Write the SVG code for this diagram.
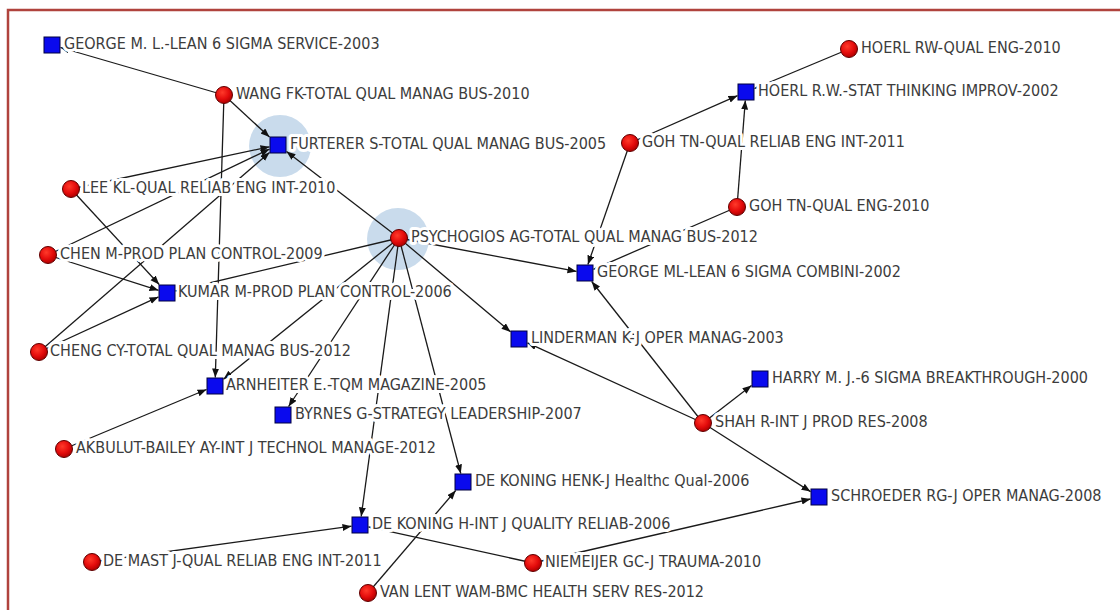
<svg xmlns="http://www.w3.org/2000/svg" width="1120" height="610" viewBox="0 0 1120 610">
  <defs>
    <radialGradient id="redBall" cx="40%" cy="35%" r="65%">
      <stop offset="0" stop-color="#ff3a2a"/>
      <stop offset="0.6" stop-color="#e40c0c"/>
      <stop offset="1" stop-color="#b00000"/>
    </radialGradient>
    <marker id="arrow" markerUnits="userSpaceOnUse" markerWidth="10" markerHeight="8" refX="9" refY="3.5" orient="auto">
      <path d="M0,0 L9,3.5 L0,7 z" fill="#111"/>
    </marker>
    <style>
      .frame { fill: none; stroke: #b0433d; stroke-width: 2.5; }
      .halo { fill: #c9dbec; }
      .edge { stroke: #1a1a1a; stroke-width: 1.3; fill: none; marker-end: url(#arrow); }
      .paper { fill: #0a0aee; stroke: #000040; stroke-width: 1; }
      .author { fill: url(#redBall); stroke: #600000; stroke-width: 1; }
      .lbl { font-family: "DejaVu Sans Condensed", "DejaVu Sans", "Liberation Sans", sans-serif; font-stretch: condensed; font-size: 16px; fill: #3c3c3c; stroke: #ffffff; stroke-width: 6; stroke-linejoin: round; paint-order: stroke; }
    </style>
  </defs>

  <rect width="1120" height="610" fill="#ffffff"/>
  <path class="frame" d="M8,612 L8,10 L1122,10"/>

  <!-- highlight discs behind the two central nodes -->
  <circle class="halo" cx="280" cy="146" r="31"/>
  <circle class="halo" cx="398" cy="239" r="31"/>

  <g id="connectors">
    <line class="edge" x1="224" y1="95" x2="60.5" y2="47.5"/>
    <line class="edge" x1="224" y1="95" x2="269.5" y2="137.1"/>
    <line class="edge" x1="224" y1="95" x2="215.3" y2="377.5"/>
    <line class="edge" x1="71" y1="189" x2="269.5" y2="146.8"/>
    <line class="edge" x1="48" y1="255" x2="269.5" y2="149.1"/>
    <line class="edge" x1="39" y1="352" x2="269.5" y2="152.4"/>
    <line class="edge" x1="399" y1="238" x2="286.5" y2="151.5"/>
    <line class="edge" x1="71" y1="189" x2="159.2" y2="284.5"/>
    <line class="edge" x1="48" y1="255" x2="158.5" y2="290.3"/>
    <line class="edge" x1="39" y1="352" x2="158.5" y2="296.9"/>
    <line class="edge" x1="399" y1="238" x2="175.5" y2="291"/>
    <line class="edge" x1="399" y1="238" x2="223.5" y2="379.2"/>
    <line class="edge" x1="64" y1="449" x2="206.5" y2="389.5"/>
    <line class="edge" x1="399" y1="238" x2="288.6" y2="406.5"/>
    <line class="edge" x1="399" y1="238" x2="361.2" y2="516.5"/>
    <line class="edge" x1="399" y1="238" x2="460.8" y2="473.5"/>
    <line class="edge" x1="399" y1="238" x2="576.5" y2="271.4"/>
    <line class="edge" x1="399" y1="238" x2="510.5" y2="331.8"/>
    <line class="edge" x1="92" y1="562" x2="351.5" y2="526.2"/>
    <line class="edge" x1="533" y1="563" x2="368.5" y2="526.9"/>
    <line class="edge" x1="533" y1="563" x2="810.5" y2="499"/>
    <line class="edge" x1="368" y1="593" x2="455.7" y2="490.5"/>
    <line class="edge" x1="703" y1="423" x2="527.5" y2="342.9"/>
    <line class="edge" x1="703" y1="423" x2="591.7" y2="281.5"/>
    <line class="edge" x1="703" y1="423" x2="751.5" y2="385.6"/>
    <line class="edge" x1="703" y1="423" x2="810.5" y2="491.6"/>
    <line class="edge" x1="630" y1="143" x2="737.5" y2="95.7"/>
    <line class="edge" x1="630" y1="143" x2="587.9" y2="264.5"/>
    <line class="edge" x1="737" y1="207" x2="745.3" y2="100.5"/>
    <line class="edge" x1="737" y1="207" x2="593.5" y2="269.3"/>
    <line class="edge" x1="849" y1="49" x2="754.5" y2="88.5"/>
  </g>

  <!-- cited works (squares) -->
  <g id="george-ml-service">
    <text class="lbl" x="64" y="49">GEORGE M. L.-LEAN 6 SIGMA SERVICE-2003</text>
    <rect class="paper" x="44" y="37" width="16" height="16"/>
  </g>
  <g id="furterer">
    <text class="lbl" x="290" y="149">FURTERER S-TOTAL QUAL MANAG BUS-2005</text>
    <rect class="paper" x="270" y="137" width="16" height="16"/>
  </g>
  <g id="kumar">
    <text class="lbl" x="178" y="297">KUMAR M-PROD PLAN CONTROL-2006</text>
    <rect class="paper" x="159" y="285" width="16" height="16"/>
  </g>
  <g id="arnheiter">
    <text class="lbl" x="226" y="390">ARNHEITER E.-TQM MAGAZINE-2005</text>
    <rect class="paper" x="207" y="378" width="16" height="16"/>
  </g>
  <g id="byrnes">
    <text class="lbl" x="295" y="419">BYRNES G-STRATEGY LEADERSHIP-2007</text>
    <rect class="paper" x="275" y="407" width="16" height="16"/>
  </g>
  <g id="george-ml-combini">
    <text class="lbl" x="597" y="277">GEORGE ML-LEAN 6 SIGMA COMBINI-2002</text>
    <rect class="paper" x="577" y="265" width="16" height="16"/>
  </g>
  <g id="linderman">
    <text class="lbl" x="531" y="343">LINDERMAN K-J OPER MANAG-2003</text>
    <rect class="paper" x="511" y="331" width="16" height="16"/>
  </g>
  <g id="hoerl-stat">
    <text class="lbl" x="758" y="96">HOERL R.W.-STAT THINKING IMPROV-2002</text>
    <rect class="paper" x="738" y="84" width="16" height="16"/>
  </g>
  <g id="harry">
    <text class="lbl" x="772" y="383">HARRY M. J.-6 SIGMA BREAKTHROUGH-2000</text>
    <rect class="paper" x="752" y="371" width="16" height="16"/>
  </g>
  <g id="schroeder">
    <text class="lbl" x="831" y="501">SCHROEDER RG-J OPER MANAG-2008</text>
    <rect class="paper" x="811" y="489" width="16" height="16"/>
  </g>
  <g id="de-koning-henk">
    <text class="lbl" x="475" y="486">DE KONING HENK-J Healthc Qual-2006</text>
    <rect class="paper" x="455" y="474" width="16" height="16"/>
  </g>
  <g id="de-koning-h">
    <text class="lbl" x="372" y="529">DE KONING H-INT J QUALITY RELIAB-2006</text>
    <rect class="paper" x="352" y="517" width="16" height="16"/>
  </g>

  <!-- citing works (circles) -->
  <g id="wang">
    <text class="lbl" x="236" y="99">WANG FK-TOTAL QUAL MANAG BUS-2010</text>
    <circle class="author" cx="224" cy="95" r="8.5"/>
  </g>
  <g id="lee">
    <text class="lbl" x="82" y="193">LEE KL-QUAL RELIAB ENG INT-2010</text>
    <circle class="author" cx="71" cy="189" r="8.5"/>
  </g>
  <g id="chen">
    <text class="lbl" x="60" y="259">CHEN M-PROD PLAN CONTROL-2009</text>
    <circle class="author" cx="48" cy="255" r="8.5"/>
  </g>
  <g id="cheng">
    <text class="lbl" x="50" y="356">CHENG CY-TOTAL QUAL MANAG BUS-2012</text>
    <circle class="author" cx="39" cy="352" r="8.5"/>
  </g>
  <g id="akbulut">
    <text class="lbl" x="76" y="453">AKBULUT-BAILEY AY-INT J TECHNOL MANAGE-2012</text>
    <circle class="author" cx="64" cy="449" r="8.5"/>
  </g>
  <g id="de-mast">
    <text class="lbl" x="103" y="566">DE MAST J-QUAL RELIAB ENG INT-2011</text>
    <circle class="author" cx="92" cy="562" r="8.5"/>
  </g>
  <g id="niemeijer">
    <text class="lbl" x="545" y="567">NIEMEIJER GC-J TRAUMA-2010</text>
    <circle class="author" cx="533" cy="563" r="8.5"/>
  </g>
  <g id="van-lent">
    <text class="lbl" x="380" y="597">VAN LENT WAM-BMC HEALTH SERV RES-2012</text>
    <circle class="author" cx="368" cy="593" r="8.5"/>
  </g>
  <g id="psychogios">
    <text class="lbl" x="411" y="242">PSYCHOGIOS AG-TOTAL QUAL MANAG BUS-2012</text>
    <circle class="author" cx="399" cy="238" r="8.5"/>
  </g>
  <g id="shah">
    <text class="lbl" x="715" y="427">SHAH R-INT J PROD RES-2008</text>
    <circle class="author" cx="703" cy="423" r="8.5"/>
  </g>
  <g id="goh-reliab">
    <text class="lbl" x="642" y="147">GOH TN-QUAL RELIAB ENG INT-2011</text>
    <circle class="author" cx="630" cy="143" r="8.5"/>
  </g>
  <g id="goh-qual-eng">
    <text class="lbl" x="749" y="211">GOH TN-QUAL ENG-2010</text>
    <circle class="author" cx="737" cy="207" r="8.5"/>
  </g>
  <g id="hoerl-rw">
    <text class="lbl" x="861" y="53">HOERL RW-QUAL ENG-2010</text>
    <circle class="author" cx="849" cy="49" r="8.5"/>
  </g>
</svg>
